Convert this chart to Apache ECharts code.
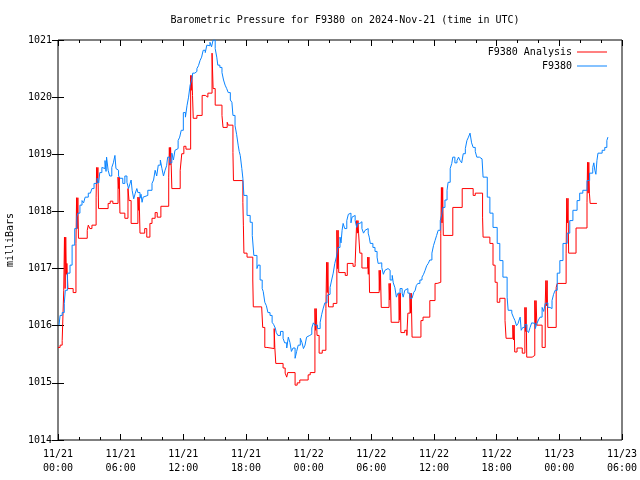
<!DOCTYPE html>
<html><head><meta charset="utf-8">
<script src="https://cdn.jsdelivr.net/npm/echarts@6/dist/echarts.min.js"></script>
<style>html,body{margin:0;padding:0;background:#fff}#c{width:640px;height:480px}</style>
</head><body><div id="c"></div>
<script>
var titleText = 'Barometric Pressure for F9380 on 2024-Nov-21 (time in UTC)';
var xTickLabels = ['11/21\n00:00','11/21\n06:00','11/21\n12:00','11/21\n18:00','11/22\n00:00','11/22\n06:00','11/22\n12:00','11/22\n18:00','11/23\n00:00','11/23\n06:00'];
var seriesNames = ['F9380 Analysis', 'F9380'];

// hours since 2024-11-21 00:00 UTC
var analysisHours = [0.0,0.2,0.4,0.55,0.62,0.68,0.74,0.8,0.85,0.95,1.45,1.72,1.78,1.84,1.9,1.96,2.8,2.9,3.05,3.25,3.65,3.7,3.76,3.82,3.88,4.8,5.0,5.25,5.75,5.81,5.87,5.93,6.4,6.7,6.8,7.0,7.65,7.71,7.77,7.85,8.3,8.5,8.8,9.0,9.3,9.5,9.85,10.6,10.66,10.72,10.78,10.84,10.9,11.7,11.85,12.05,12.25,12.7,12.76,12.82,12.88,12.95,13.3,13.8,14.1,14.35,14.75,14.85,15.05,15.7,15.8,16.2,16.3,16.75,16.8,17.7,17.75,17.8,18.1,18.65,18.7,19.5,19.6,19.8,20.0,20.7,20.76,20.85,21.55,21.75,21.9,22.0,22.7,22.9,23.15,23.95,24.15,24.6,24.66,24.72,24.8,25.0,25.3,25.65,25.72,25.78,25.84,25.9,26.35,26.7,26.76,26.82,26.88,27.5,27.7,28.25,28.45,28.6,28.66,28.72,28.78,28.9,29.1,29.65,29.71,29.77,29.83,30.75,30.81,30.87,30.95,31.7,31.76,31.82,31.9,32.65,32.71,32.77,32.83,33.2,33.4,33.5,33.7,33.76,33.82,33.9,34.75,34.95,35.6,36.1,36.3,36.65,36.71,36.77,36.83,36.89,37.8,38.7,39.75,39.95,40.65,40.7,41.35,41.65,41.85,42.05,42.3,42.8,42.9,43.55,43.61,43.67,43.73,43.95,44.45,44.7,44.76,44.82,44.88,45.4,45.65,45.71,45.77,45.85,46.35,46.65,46.71,46.77,46.83,46.9,47.7,47.8,48.65,48.71,48.77,48.83,48.89,49.6,50.65,50.7,50.76,50.82,50.88,50.95,51.6];
var analysisValues = [1015.62,1015.66,1015.74,1016.62,1017.55,1016.65,1017.55,1016.9,1017.09,1016.65,1016.58,1017.44,1018.24,1017.7,1018.24,1017.53,1017.67,1017.76,1017.70,1017.76,1018.25,1018.77,1018.5,1018.77,1018.05,1018.14,1018.18,1018.14,1018.60,1018.40,1018.60,1017.97,1017.88,1018.40,1018.19,1017.79,1018.25,1018.02,1018.25,1017.62,1017.70,1017.55,1017.79,1017.88,1017.98,1017.90,1018.09,1018.60,1019.12,1018.81,1019.12,1018.81,1018.40,1018.72,1019.01,1019.14,1019.09,1020.38,1020.12,1020.38,1020.03,1019.63,1019.68,1020.03,1020.0,1020.07,1020.77,1020.15,1019.86,1019.68,1019.47,1019.56,1019.51,1019.03,1018.54,1018.16,1017.76,1017.27,1017.20,1016.80,1016.33,1016.30,1015.97,1015.62,1015.60,1015.95,1015.62,1015.34,1015.26,1015.17,1015.10,1015.18,1014.96,1015.0,1015.05,1015.14,1015.18,1016.30,1015.92,1016.30,1015.83,1015.52,1015.57,1016.30,1017.11,1016.58,1017.11,1016.33,1016.39,1017.67,1017.0,1017.67,1016.93,1016.88,1017.09,1017.04,1017.09,1017.84,1017.62,1017.84,1017.62,1017.27,1017.01,1017.20,1016.9,1017.20,1016.58,1016.97,1016.62,1016.97,1016.32,1016.74,1016.45,1016.74,1016.06,1016.57,1016.1,1016.57,1015.88,1015.92,1015.83,1016.22,1016.57,1016.22,1016.57,1015.80,1016.09,1016.15,1016.44,1016.74,1016.76,1017.62,1018.42,1017.8,1018.42,1017.58,1018.07,1018.40,1018.28,1018.32,1017.90,1017.55,1017.44,1017.06,1016.76,1016.41,1016.48,1016.09,1015.78,1016.01,1015.75,1016.01,1015.54,1015.61,1015.52,1016.32,1015.9,1016.32,1015.45,1015.48,1016.44,1016.01,1016.44,1016.01,1015.62,1016.39,1016.79,1016.35,1016.79,1015.97,1016.67,1016.74,1017.27,1018.23,1017.8,1018.23,1017.27,1017.71,1018.16,1018.86,1018.32,1018.86,1018.32,1018.14,1018.14];

var stationHours = [0.1,0.2,0.4,0.6,0.7,0.9,1.15,1.35,1.6,1.8,1.9,2.1,2.3,2.45,2.6,2.9,3.1,3.25,3.45,3.75,3.9,4.0,4.2,4.35,4.5,4.6,4.65,4.8,4.95,5.15,5.3,5.45,5.55,5.65,5.8,5.95,6.2,6.4,6.6,6.75,6.9,7.0,7.1,7.25,7.4,7.55,7.65,7.85,7.95,8.05,8.15,8.3,8.6,9.0,9.15,9.3,9.45,9.6,9.8,9.95,10.1,10.25,10.4,10.5,10.7,10.9,11.05,11.2,11.35,11.5,11.65,11.8,12.0,12.2,12.35,12.5,12.65,12.8,12.9,13.1,13.3,13.45,13.6,13.75,13.9,14.1,14.25,14.4,14.55,14.7,14.85,15.05,15.2,15.3,15.5,15.7,15.85,16.0,16.15,16.3,16.5,16.65,16.75,16.95,17.1,17.25,17.35,17.45,17.6,17.7,17.8,18.1,18.4,18.6,18.75,19.05,19.15,19.35,19.55,19.65,19.8,19.95,20.1,20.3,20.5,20.65,20.8,20.9,21.05,21.3,21.55,21.7,21.9,22.05,22.2,22.35,22.5,22.7,22.85,23.0,23.2,23.35,23.5,23.65,23.8,23.95,24.1,24.3,24.45,24.6,24.85,25.1,25.25,25.4,25.55,25.75,25.9,26.05,26.2,26.35,26.5,26.65,26.8,27.0,27.1,27.2,27.3,27.45,27.65,27.8,27.95,28.05,28.15,28.3,28.45,28.6,28.7,28.9,29.1,29.25,29.4,29.55,29.7,29.8,29.9,30.15,30.35,30.55,30.65,30.8,31.0,31.15,31.3,31.45,31.6,31.8,32.0,32.1,32.25,32.4,32.55,32.75,32.95,33.05,33.2,33.35,33.5,33.7,33.9,34.05,34.2,34.3,34.45,34.65,34.85,35.0,35.15,35.3,35.45,35.6,35.8,35.95,36.1,36.25,36.4,36.6,36.75,36.85,37.05,37.25,37.35,37.55,37.7,37.8,38.0,38.2,38.35,38.5,38.65,38.8,39.0,39.15,39.3,39.45,39.6,39.75,39.95,40.1,40.35,40.6,40.7,41.1,41.35,41.65,42.05,42.3,42.6,43.0,43.1,43.45,43.6,43.75,43.9,44.05,44.15,44.25,44.35,44.5,44.7,44.9,45.05,45.2,45.35,45.5,45.7,45.85,46.0,46.15,46.35,46.5,46.65,46.75,46.9,47.1,47.3,47.45,47.6,47.8,48.05,48.35,48.75,49.0,49.3,49.7,49.95,50.25,50.65,50.9,51.2,51.3,51.4,51.5,51.6,51.7,52.1,52.35,52.55,52.65];
var stationValues = [1016.01,1016.18,1016.23,1016.39,1016.62,1016.92,1017.06,1017.41,1017.70,1017.90,1017.97,1018.11,1018.19,1018.15,1018.25,1018.32,1018.30,1018.40,1018.49,1018.58,1018.50,1018.68,1018.77,1018.75,1018.89,1018.70,1018.95,1018.72,1018.62,1018.77,1018.85,1018.98,1018.75,1018.72,1018.62,1018.58,1018.49,1018.62,1018.51,1018.40,1018.49,1018.55,1018.37,1018.22,1018.32,1018.40,1018.33,1018.23,1018.30,1018.16,1018.25,1018.28,1018.37,1018.49,1018.55,1018.72,1018.62,1018.81,1018.90,1018.75,1018.62,1018.72,1018.80,1018.95,1018.85,1019.02,1018.90,1019.07,1019.10,1019.24,1019.30,1019.42,1019.73,1019.65,1019.85,1020.0,1020.21,1020.30,1020.42,1020.45,1020.50,1020.55,1020.64,1020.70,1020.82,1020.78,1020.91,1020.90,1020.96,1020.88,1021.0,1020.85,1020.70,1020.56,1020.52,1020.43,1020.30,1020.21,1020.15,1020.08,1019.95,1019.91,1019.68,1019.50,1019.35,1019.16,1019.05,1018.98,1018.75,1018.58,1018.28,1017.93,1017.81,1017.58,1017.23,1017.00,1017.06,1016.80,1016.65,1016.60,1016.41,1016.35,1016.23,1016.18,1016.06,1016.02,1015.96,1015.88,1015.83,1015.90,1015.78,1015.70,1015.61,1015.80,1015.71,1015.55,1015.61,1015.43,1015.55,1015.66,1015.78,1015.71,1015.60,1015.66,1015.80,1015.83,1015.85,1015.96,1016.05,1016.01,1015.95,1016.06,1016.20,1016.31,1016.40,1016.53,1016.55,1016.67,1016.80,1016.92,1017.09,1017.20,1017.37,1017.55,1017.45,1017.67,1017.79,1017.70,1017.84,1017.95,1017.97,1017.80,1017.90,1017.93,1017.84,1017.72,1017.79,1017.82,1017.70,1017.62,1017.67,1017.70,1017.62,1017.55,1017.44,1017.37,1017.30,1017.20,1017.09,1017.10,1017.02,1016.90,1016.97,1017.00,1016.97,1016.80,1016.88,1016.75,1016.67,1016.50,1016.57,1016.65,1016.57,1016.50,1016.62,1016.65,1016.57,1016.48,1016.50,1016.58,1016.62,1016.70,1016.74,1016.80,1016.85,1016.90,1016.97,1017.05,1017.09,1017.15,1017.27,1017.40,1017.49,1017.58,1017.67,1017.84,1017.95,1018.07,1018.20,1018.37,1018.51,1018.75,1018.84,1018.95,1018.85,1018.89,1018.95,1018.89,1018.85,1019.01,1019.10,1019.24,1019.30,1019.37,1019.20,1019.12,1019.05,1018.95,1018.92,1018.89,1018.60,1018.25,1017.97,1017.72,1017.44,1017.14,1016.85,1016.50,1016.27,1016.22,1016.15,1016.09,1016.00,1016.04,1016.10,1016.15,1015.92,1015.97,1016.02,1015.92,1015.88,1015.97,1016.05,1016.04,1015.95,1016.04,1016.10,1016.15,1016.32,1016.25,1016.39,1016.40,1016.32,1016.30,1016.44,1016.55,1016.62,1016.92,1017.14,1017.44,1017.62,1017.84,1018.02,1018.19,1018.32,1018.37,1018.54,1018.67,1018.77,1018.85,1018.72,1018.65,1018.89,1019.02,1019.07,1019.12,1019.24,1019.30];

function zip(a, b) { var r = []; for (var i = 0; i < a.length; i++) r.push([a[i], b[i]]); return r; }

var FONT = 'DejaVu Sans Mono';
var chart = echarts.init(document.getElementById('c'), null, {renderer: 'canvas'});
var xCommon = {
  type: 'value', min: 0, max: 54, interval: 6,
  splitLine: {show: false},
  axisLine: {show: false},
  axisTick: {show: true, inside: true, length: 6, lineStyle: {color: '#000'}},
  minorTick: {show: true, splitNumber: 3, length: 3, lineStyle: {color: '#000'}},
  minorSplitLine: {show: false}
};
var yCommon = {
  type: 'value', min: 1014, max: 1021, interval: 1,
  splitLine: {show: false},
  axisLine: {show: false},
  axisTick: {show: true, inside: true, length: 6, lineStyle: {color: '#000'}}
};
chart.setOption({
  animation: false,
  backgroundColor: '#fff',
  title: {text: titleText, left: 340, textAlign: 'center', top: 10,
    textStyle: {fontFamily: FONT, fontSize: 10, fontWeight: 'normal', color: '#000'}},
  grid: {left: 58, right: 18, top: 40, bottom: 40, containLabel: false, outerBoundsMode: 'none',
    show: true, borderColor: '#000', borderWidth: 1, backgroundColor: 'transparent'},
  legend: {orient: 'vertical', right: 28, top: 42, align: 'right', icon: 'rect', itemWidth: 30, itemHeight: 1, itemGap: 4,
    textStyle: {fontFamily: FONT, fontSize: 10, color: '#000', padding: [0, 0, 0, 0]},
    data: seriesNames},
  xAxis: [
    Object.assign({}, xCommon, {position: 'bottom',
      axisLabel: {fontFamily: FONT, fontSize: 10, color: '#000', margin: 7, lineHeight: 14,
        formatter: function (v) { return xTickLabels[Math.round(v / 6)]; }}}),
    Object.assign({}, xCommon, {position: 'top', axisLabel: {show: false}})
  ],
  yAxis: [
    Object.assign({}, yCommon, {position: 'left', name: 'milliBars', nameLocation: 'middle', nameRotate: 90, nameGap: 43,
      nameTextStyle: {fontFamily: FONT, fontSize: 10, color: '#000'},
      axisLabel: {fontFamily: FONT, fontSize: 10, color: '#000', margin: 6,
        formatter: function (v) { return String(v); }}}),
    Object.assign({}, yCommon, {position: 'right', axisLabel: {show: false}})
  ],
  series: [
    {name: seriesNames[0], type: 'line', step: 'end', showSymbol: false, data: zip(analysisHours, analysisValues),
      lineStyle: {color: '#ff0000', width: 1}, itemStyle: {color: '#ff0000'}, clip: true},
    {name: seriesNames[1], type: 'line', step: 'end', showSymbol: false, data: zip(stationHours, stationValues),
      lineStyle: {color: '#0a84ff', width: 1}, itemStyle: {color: '#0a84ff'}, clip: true}
  ]
});
</script></body></html>
